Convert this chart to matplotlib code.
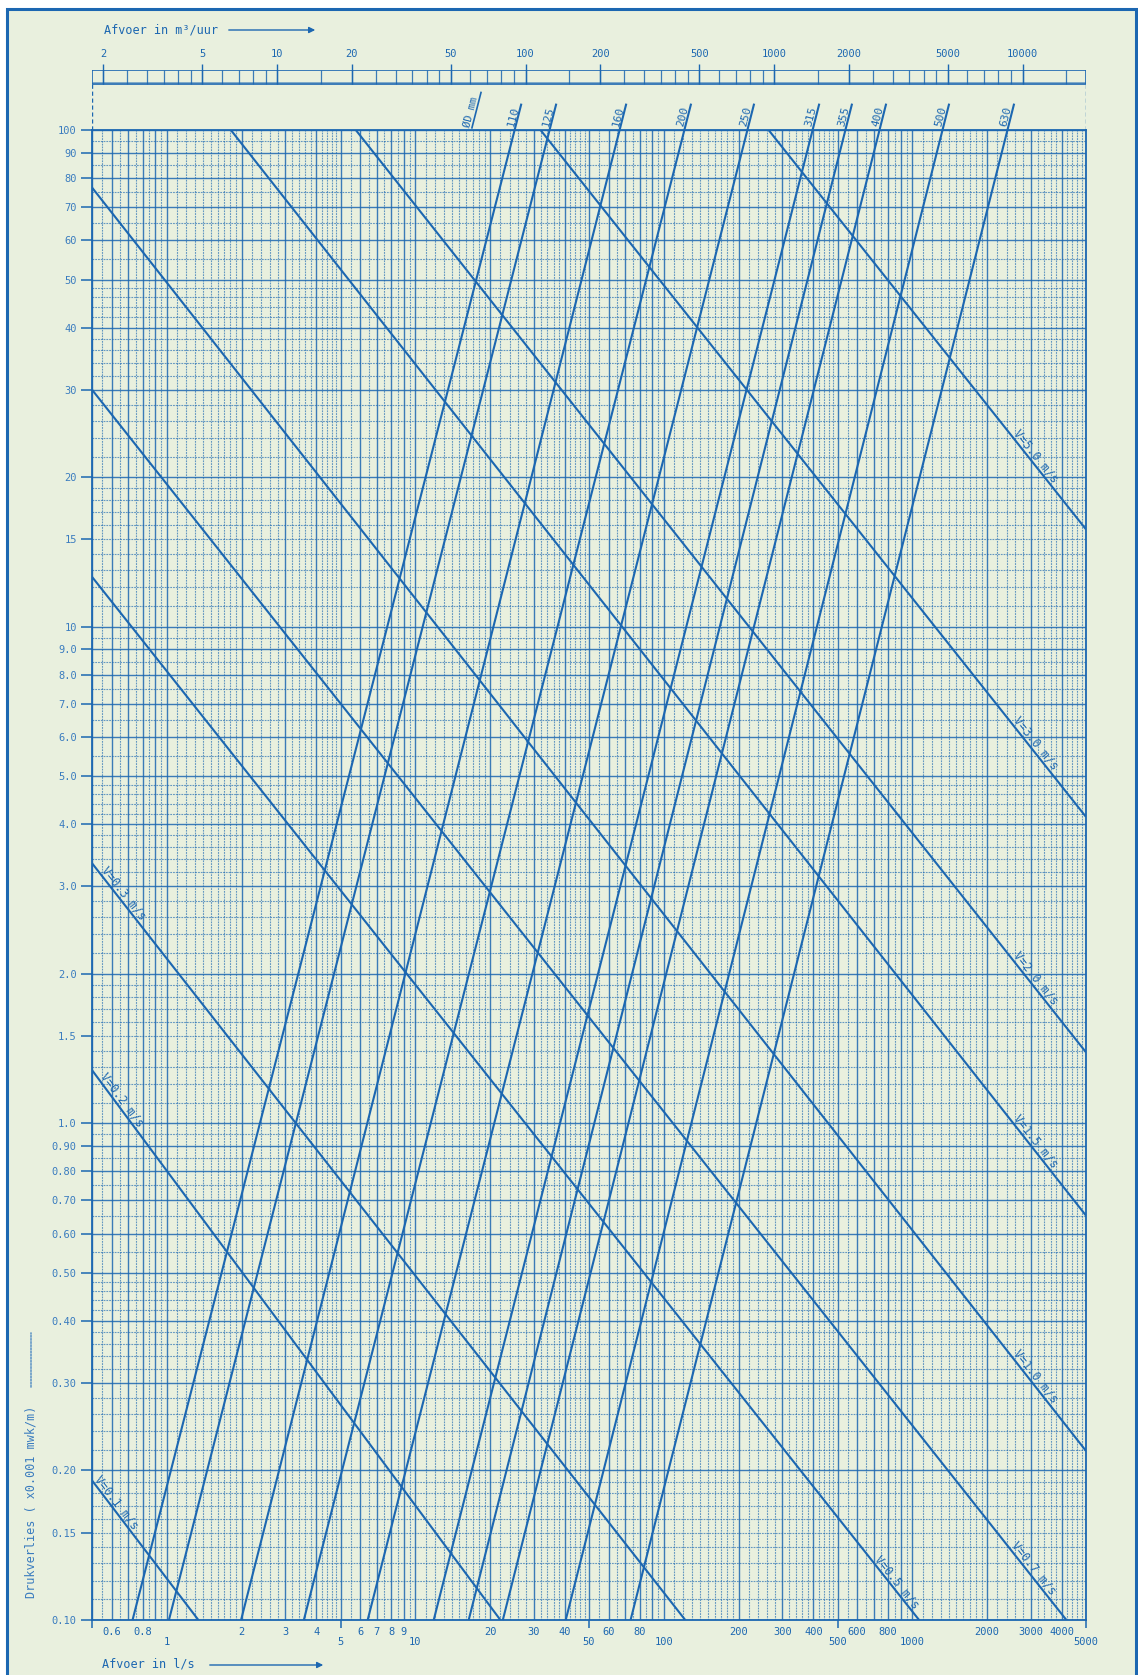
import numpy as np
import matplotlib
matplotlib.use('Agg')
import matplotlib.pyplot as plt
from matplotlib.patches import Rectangle
from matplotlib.ticker import NullLocator

# ---------------- data ----------------
# pipe diameters (mm): flow (l/s) where each line meets J=0.10 and J=100
diameters = ['110', '125', '160', '200', '250', '315', '355', '400', '500', '630']
dia_q_at_jmin = [0.728, 1.02, 1.99, 3.56, 6.43, 11.86, 16.4, 22.5, 40.3, 73.5]
dia_q_at_jmax = [25.1, 34.7, 66.4, 121, 217, 397, 538, 738, 1323, 2415]
j_min, j_max = 0.1, 100.0

# velocity lines (m/s): two end points (Q l/s, J x0.001 mwk/m)
velocities = ['0.1', '0.2', '0.3', '0.5', '0.7', '1.0', '1.5', '2.0', '3.0', '5.0']
vel_q0 = [0.5, 0.5, 0.5, 0.5, 0.5, 0.5, 1.81, 5.76, 31.9, 264]
vel_j0 = [0.191, 1.28, 3.34, 12.6, 30.0, 76.6, 100, 100, 100, 100]
vel_q1 = [1.34, 22.0, 122, 1065, 4170, 5000, 5000, 5000, 5000, 5000]
vel_j1 = [0.1, 0.1, 0.1, 0.1, 0.1, 0.219, 0.652, 1.39, 4.14, 15.7]
vel_label_q = [0.60, 0.63, 0.64, 830, 2930, 2990, 2990, 2990, 2990, 2990]

# axis ticks
y_tick_vals = [100, 90, 80, 70, 60, 50, 40, 30, 20, 15, 10, 9, 8, 7, 6, 5, 4, 3, 2, 1.5,
               1, 0.9, 0.8, 0.7, 0.6, 0.5, 0.4, 0.3, 0.2, 0.15, 0.1]
y_tick_txt = ['100', '90', '80', '70', '60', '50', '40', '30', '20', '15', '10', '9.0', '8.0',
              '7.0', '6.0', '5.0', '4.0', '3.0', '2.0', '1.5', '1.0', '0.90', '0.80', '0.70',
              '0.60', '0.50', '0.40', '0.30', '0.20', '0.15', '0.10']
x_row1_vals = [0.6, 0.8, 2, 3, 4, 6, 7, 8, 9, 20, 30, 40, 60, 80, 200, 300, 400, 600, 800,
               2000, 3000, 4000]
x_row1_txt = ['0.6', '0.8', '2', '3', '4', '6', '7', '8', '9', '20', '30', '40', '60', '80',
              '200', '300', '400', '600', '800', '2000', '3000', '4000']
x_row2_vals = [1, 5, 10, 50, 100, 500, 1000, 5000]
x_row2_txt = ['1', '5', '10', '50', '100', '500', '1000', '5000']
top_tick_vals = [2, 5, 10, 20, 50, 100, 200, 500, 1000, 2000, 5000, 10000]
top_tick_txt = ['2', '5', '10', '20', '50', '100', '200', '500', '1000', '2000', '5000', '10000']

# ---------------- style ----------------
plt.rcParams['font.family'] = ['DejaVu Sans Mono']
BG = '#e9f0de'
BLUE = '#1c67b1'
LBLUE = '#3a7cbf'
W, H = 1138, 1675


def fx(px):
    return px / W


def fy(py):
    return 1 - py / H


fig = plt.figure(figsize=(W / 100, H / 100), dpi=100)
fig.patch.set_facecolor('white')
fig.patches.append(Rectangle((fx(7), fy(1720)), fx(1136) - fx(7), fy(9) - fy(1720),
                             transform=fig.transFigure, facecolor=BG, edgecolor=BLUE,
                             lw=2.2, zorder=-10))

L, R, T, B = 92, 1086, 130, 1620
ax = fig.add_axes([fx(L), fy(B), (R - L) / W, (B - T) / H])
ax.set_xscale('log')
ax.set_yscale('log')
ax.set_xlim(0.5, 5000)
ax.set_ylim(j_min, j_max)
ax.set_facecolor('none')
for s in ax.spines.values():
    s.set_color(BLUE)
    s.set_linewidth(1.3)

# ---------------- log-paper grid ----------------
mults = [round(v, 2) for v in list(np.arange(1, 2, 0.1)) + list(np.arange(2, 5, 0.2)) +
         list(np.arange(5, 10, 0.5))]


def paper(lo, hi):
    major, minor = [], []
    for k in range(-2, 5):
        for m in mults:
            v = m * 10.0 ** k
            if lo * 0.9999 <= v <= hi * 1.0001:
                (major if abs(m - round(m)) < 1e-6 else minor).append(v)
    return major, minor


xmaj, xmin_ = paper(0.5, 5000)
ymaj, ymin_ = paper(0.1, 100)
ax.vlines(xmaj, j_min, j_max, color=BLUE, lw=1.0, alpha=0.85, zorder=1)
ax.vlines(xmin_, j_min, j_max, color=BLUE, lw=0.8, alpha=0.65, zorder=1,
          linestyles=(0, (1.6, 0.9)))
ax.hlines(ymaj, 0.5, 5000, color=BLUE, lw=1.0, alpha=0.85, zorder=1)
ax.hlines(ymin_, 0.5, 5000, color=BLUE, lw=0.8, alpha=0.65, zorder=1,
          linestyles=(0, (1.6, 0.9)))


def angle_of(q0, j0, q1, j1):
    p0 = ax.transData.transform((q0, j0))
    p1 = ax.transData.transform((q1, j1))
    return np.degrees(np.arctan2(p1[1] - p0[1], p1[0] - p0[0]))


# ---------------- diameter lines ----------------
j_ext = 113.0
j_lab = 106.0
for name, q0, q1 in zip(diameters, dia_q_at_jmin, dia_q_at_jmax):
    b = np.log10(j_max / j_min) / np.log10(q1 / q0)
    q_ext = q1 * (j_ext / j_max) ** (1 / b)
    ax.plot([q0, q_ext], [j_min, j_ext], color=BLUE, lw=1.5, clip_on=False, zorder=3,
            solid_capstyle='butt')
    q_lab = q1 * (j_lab / j_max) ** (1 / b)
    ang = angle_of(q0, j_min, q1, j_max)
    ax.text(q_lab, j_lab, name, rotation=ang, rotation_mode='anchor', ha='center',
            va='bottom', fontsize=8, color=BLUE, clip_on=False, zorder=4)

# header label "ØD mm" with its own underline
b0 = np.log10(j_max / j_min) / np.log10(dia_q_at_jmax[0] / dia_q_at_jmin[0])
hq0, hj0, hj1 = 16.9, 101.0, 119.0
hq1 = hq0 * (hj1 / hj0) ** (1 / b0)
ax.plot([hq0, hq1], [hj0, hj1], color=BLUE, lw=1.2, clip_on=False, zorder=3)
hqm = hq0 * (108.0 / hj0) ** (1 / b0)
ax.text(hqm, 108.0, 'ØD mm', rotation=angle_of(hq0, hj0, hq1, hj1), rotation_mode='anchor',
        ha='center', va='bottom', fontsize=7.5, color=BLUE, clip_on=False, zorder=4)

# ---------------- velocity lines ----------------
for name, q0, j0, q1, j1, ql in zip(velocities, vel_q0, vel_j0, vel_q1, vel_j1, vel_label_q):
    ax.plot([q0, q1], [j0, j1], color=BLUE, lw=1.5, zorder=3, solid_capstyle='butt')
    s = np.log10(j1 / j0) / np.log10(q1 / q0)
    jl = j0 * (ql / q0) ** s
    ang = angle_of(q0, j0, q1, j1)
    ax.text(ql, jl, f'V={name} m/s', rotation=ang, rotation_mode='anchor', ha='center',
            va='bottom', fontsize=8.5, color=BLUE, zorder=4)

# ---------------- axes ticks ----------------
ax.set_yticks(y_tick_vals, y_tick_txt)
ax.yaxis.set_minor_locator(NullLocator())
ax.tick_params(axis='y', direction='out', length=8, width=1.1, colors=BLUE,
               labelcolor=LBLUE, labelsize=7.5, pad=3)
ax.set_xticks([0.5, 5, 50, 500, 5000], [''] * 5)
ax.xaxis.set_minor_locator(NullLocator())
ax.tick_params(axis='x', direction='out', length=6, width=1.1, colors=BLUE)

for v, t in zip(x_row1_vals, x_row1_txt):
    ax.annotate(t, xy=(v, 0), xycoords=('data', 'axes fraction'), xytext=(0, -12),
                textcoords='offset pixels', ha='center', va='center', fontsize=7.5,
                color=BLUE)
for v, t in zip(x_row2_vals, x_row2_txt):
    ax.annotate(t, xy=(v, 0), xycoords=('data', 'axes fraction'), xytext=(0, -22),
                textcoords='offset pixels', ha='center', va='center', fontsize=7.5,
                color=BLUE)

# ---------------- top m3/h scale ----------------
bax = fig.add_axes([fx(L), fy(130), (R - L) / W, 60 / H])
bax.set_xscale('log')
bax.set_xlim(0.5 * 3.6, 5000 * 3.6)
bax.set_ylim(0, 60)
bax.axis('off')
lo, hi = bax.get_xlim()
strip_vals = []
for k in range(0, 5):
    for m in [1, 1.5, 2, 2.5, 3, 3.5, 4, 4.5, 5, 6, 7, 8, 9]:
        v = m * 10 ** k
        if lo <= v <= hi:
            strip_vals.append(v)
bax.vlines(strip_vals, 46, 60, color=BLUE, lw=0.9, alpha=0.85)
bax.hlines([46, 60], lo, hi, color=BLUE, lw=1.2)
bax.hlines([48.5], lo, hi, color=BLUE, lw=0.6, alpha=0.6)
bax.vlines([lo, hi], 46, 60, color=BLUE, lw=1.2)
bax.vlines([lo, hi], 0, 46, color=BLUE, lw=1.0, linestyles=(0, (3, 2)))
bax.vlines(top_tick_vals, 46, 66, color=BLUE, lw=1.0, clip_on=False)
for v, t in zip(top_tick_vals, top_tick_txt):
    bax.text(v, 76, t, ha='center', va='center', fontsize=7.5, color=BLUE, clip_on=False)

# ---------------- axis titles ----------------
fig.text(fx(104), fy(30), 'Afvoer in m³/uur', ha='left', va='center', fontsize=8.5,
         color=BLUE)
ax.annotate('', xy=(318, H - 30), xytext=(226, H - 30), xycoords='figure pixels',
            arrowprops=dict(arrowstyle='-|>', color=BLUE, lw=1.0, mutation_scale=9))
fig.text(fx(102), fy(1664), 'Afvoer in l/s', ha='left', va='center', fontsize=8.5,
         color=BLUE)
ax.annotate('', xy=(326, H - 1665), xytext=(207, H - 1665), xycoords='figure pixels',
            arrowprops=dict(arrowstyle='-|>', color=BLUE, lw=1.0, mutation_scale=9))
fig.text(fx(31), fy(1598), 'Drukverlies ( x0.001 mwk/m)', rotation=90, ha='center',
         va='bottom', fontsize=8.5, color=LBLUE)
ax.annotate('', xy=(31, H - 1330), xytext=(31, H - 1390), xycoords='figure pixels',
            arrowprops=dict(arrowstyle='-', color=LBLUE, lw=0.9, linestyle=(0, (1.5, 1))))

fig.savefig('out.png', dpi=100, facecolor=fig.get_facecolor())
